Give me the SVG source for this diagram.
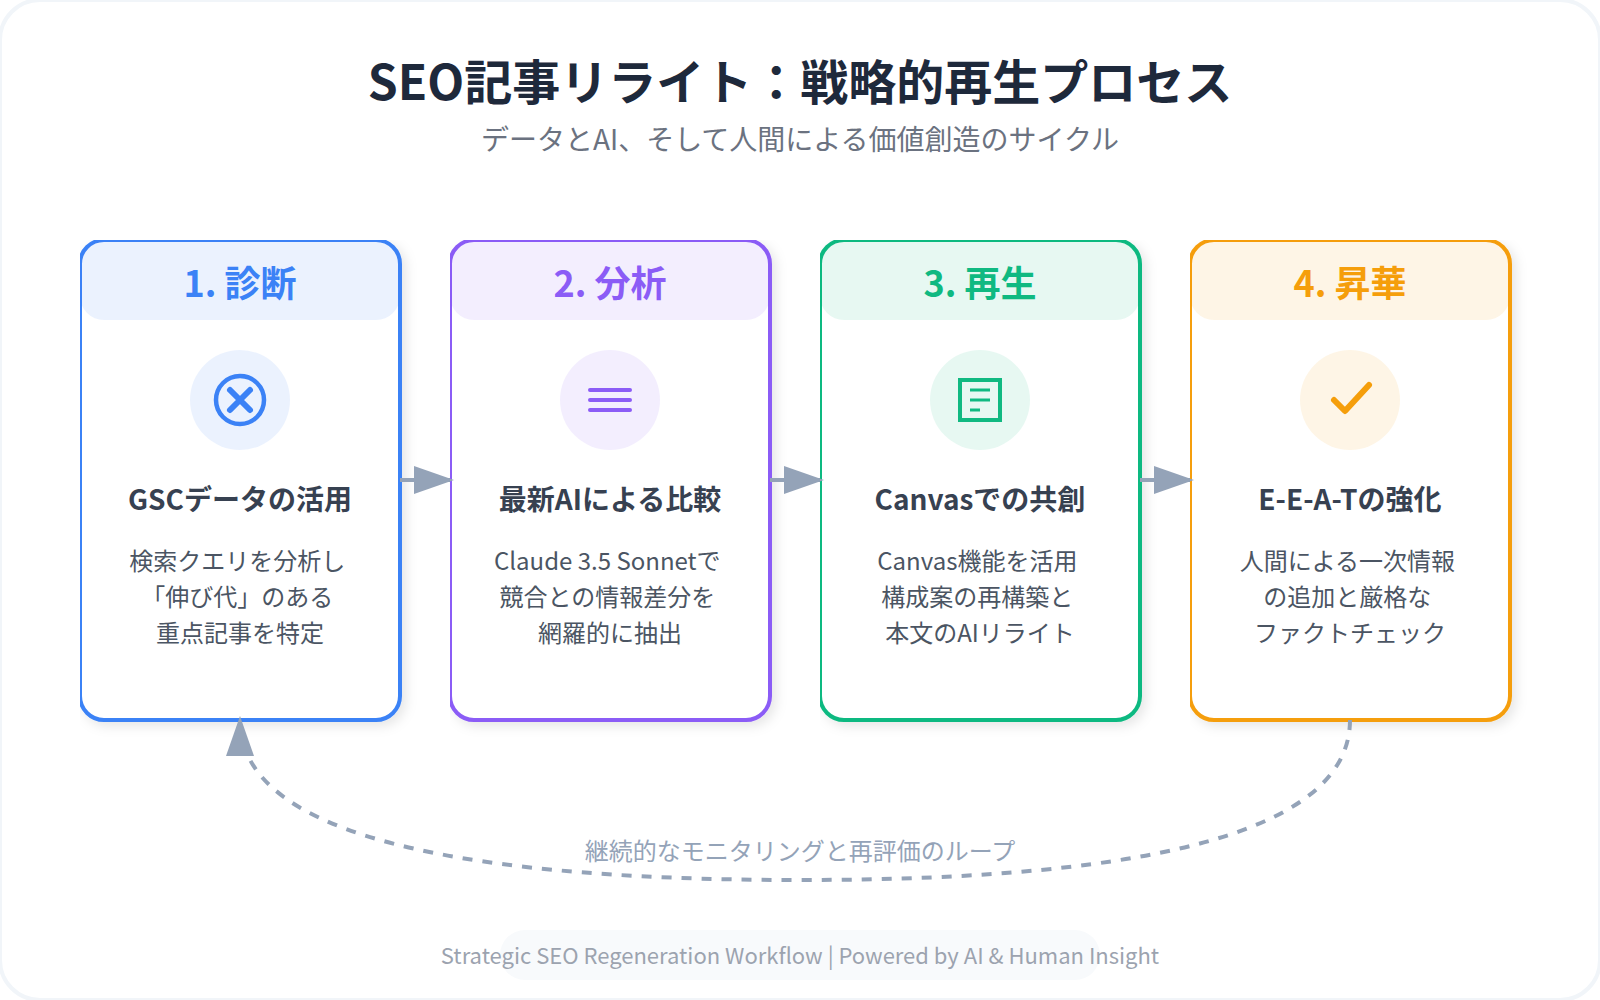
<svg xmlns="http://www.w3.org/2000/svg" width="1600" height="1000" viewBox="0 0 1600 1000">
<style>
text{font-family:"Noto Sans CJK JP","Noto Sans",sans-serif;text-anchor:middle}
.title{font-size:48px;font-weight:700;fill:#1e293b}
.sub{font-size:28px;fill:#6b7280}
.head{font-size:36px;font-weight:700}
.name{font-size:28px;font-weight:700;fill:#374151}
.desc{font-size:24px;fill:#4b5563}
.note{font-size:24px;fill:#94a3b8}
.foot{font-size:22px;fill:#9ca3af}
.card{fill:#fff;stroke-width:4;filter:url(#shadow)}
.tint{fill-opacity:.1}
.icon{fill:none;stroke-width:4;stroke-linecap:round;stroke-linejoin:round}
.blue{stroke:#3b82f6}.violet{stroke:#8b5cf6}.green{stroke:#10b981}.amber{stroke:#f59e0b}
.fblue{fill:#3b82f6}.fviolet{fill:#8b5cf6}.fgreen{fill:#10b981}.famber{fill:#f59e0b}
.link{fill:none;stroke:#94a3b8;stroke-width:4}
</style>
<defs>
<filter id="shadow" x="0" y="0" width="1.1" height="1.1">
<feDropShadow dx="4" dy="4" stdDeviation="6" flood-color="#000" flood-opacity=".1"/>
</filter>
<marker id="arrow" markerWidth="10" markerHeight="7" refX="9" refY="3.5" orient="auto">
<polygon points="0 0,10 3.5,0 7" fill="#94a3b8"/>
</marker>
</defs>
<rect id="frame" width="1600" height="1000" rx="40" fill="#fff" stroke="#f1f5f9" stroke-width="4"/>
<text class="title" x="800" y="100">SEO記事リライト：戦略的再生プロセス</text>
<text class="sub" x="800" y="150">データとAI、そして人間による価値創造のサイクル</text>

<g id="node-1">
<rect class="card blue" x="80" y="240" width="320" height="480" rx="24"/>
<rect class="fblue tint" x="80" y="240" width="320" height="80" rx="24"/>
<text class="head fblue" x="240" y="297">1. 診断</text>
<circle class="fblue tint" cx="240" cy="400" r="50"/>
<g class="icon blue"><circle cx="240" cy="400" r="24" stroke-width="4.5"/><path stroke-width="6" d="M230 390l20 20M250 390l-20 20"/></g>
<text class="name" x="240" y="510">GSCデータの活用</text>
<text class="desc" x="237.3" y="570">検索クエリを分析し</text>
<text class="desc" x="237.3" y="606">「伸び代」のある</text>
<text class="desc" x="240" y="642">重点記事を特定</text>
</g>

<g id="node-2">
<rect class="card violet" x="450" y="240" width="320" height="480" rx="24"/>
<rect class="fviolet tint" x="450" y="240" width="320" height="80" rx="24"/>
<text class="head fviolet" x="610" y="297">2. 分析</text>
<circle class="fviolet tint" cx="610" cy="400" r="50"/>
<path class="icon violet" d="M590 390h40M590 400h40M590 410h40"/>
<text class="name" x="610" y="510">最新AIによる比較</text>
<text class="desc" x="607.3" y="570">Claude 3.5 Sonnetで</text>
<text class="desc" x="607.3" y="606">競合との情報差分を</text>
<text class="desc" x="610" y="642">網羅的に抽出</text>
</g>

<g id="node-3">
<rect class="card green" x="820" y="240" width="320" height="480" rx="24"/>
<rect class="fgreen tint" x="820" y="240" width="320" height="80" rx="24"/>
<text class="head fgreen" x="980" y="297">3. 再生</text>
<circle class="fgreen tint" cx="980" cy="400" r="50"/>
<rect x="960" y="380" width="40" height="40" fill="none" stroke="#10b981" stroke-width="4"/>
<path d="M970 390h20M970 400h20M970 410h10" fill="none" stroke="#10b981" stroke-width="3"/>
<text class="name" x="980" y="510">Canvasでの共創</text>
<text class="desc" x="977.3" y="570">Canvas機能を活用</text>
<text class="desc" x="977.3" y="606">構成案の再構築と</text>
<text class="desc" x="980" y="642">本文のAIリライト</text>
</g>

<g id="node-4">
<rect class="card amber" x="1190" y="240" width="320" height="480" rx="24"/>
<rect class="famber tint" x="1190" y="240" width="320" height="80" rx="24"/>
<text class="head famber" x="1350" y="297">4. 昇華</text>
<circle class="famber tint" cx="1350" cy="400" r="50"/>
<path class="icon amber" style="stroke-width:6" d="M1334 400l11 11 24-26"/>
<text class="name" x="1350" y="510">E-E-A-Tの強化</text>
<text class="desc" x="1347.3" y="570">人間による一次情報</text>
<text class="desc" x="1347.3" y="606">の追加と厳格な</text>
<text class="desc" x="1350" y="642">ファクトチェック</text>
</g>

<g id="connectors">
<line class="link" x1="400" y1="480" x2="450" y2="480" marker-end="url(#arrow)"/>
<line class="link" x1="770" y1="480" x2="820" y2="480" marker-end="url(#arrow)"/>
<line class="link" x1="1140" y1="480" x2="1190" y2="480" marker-end="url(#arrow)"/>
<path class="link" stroke-dasharray="10 10" d="M1350 720Q1350 880 800 880Q240 880 240 720" marker-end="url(#arrow)"/>
</g>
<text class="note" x="800" y="860">継続的なモニタリングと再評価のループ</text>
<rect x="500" y="930" width="600" height="50" rx="25" fill="#f8fafc"/>
<text class="foot" x="800" y="964">Strategic SEO Regeneration Workflow | Powered by AI &amp; Human Insight</text>
</svg>
